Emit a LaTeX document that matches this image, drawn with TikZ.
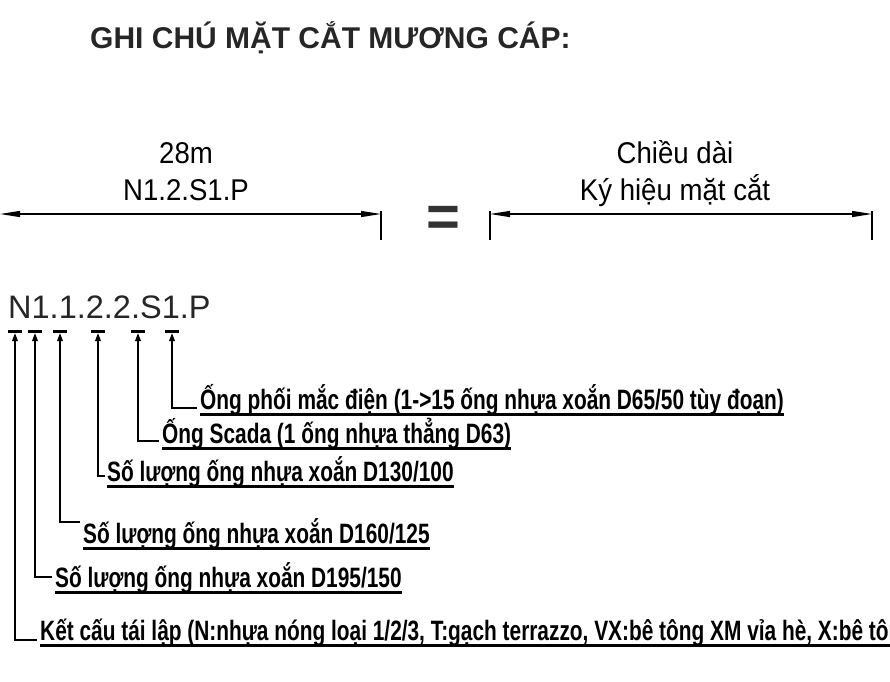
\documentclass[tikz,border=0pt]{standalone}
\usepackage{fontspec}
\setmainfont{Liberation Sans}
\newfontfamily\narrowfont[FakeStretch=0.92]{Liberation Sans}
\newfontfamily\condfont[FakeStretch=0.745]{Liberation Sans}
\usetikzlibrary{positioning}
\usetikzlibrary{arrows.meta}

\tikzset{
  titletext/.style={font=\bfseries\fontsize{30}{36}\selectfont, text=black!85, inner sep=0pt, anchor=base west},
  dimtext/.style={font=\narrowfont\fontsize{30}{36}\selectfont, inner sep=0pt, anchor=base},
  codetext/.style={font=\fontsize{32.5}{38}\selectfont, text=black!85, inner sep=0pt, anchor=base west},
  note/.style={font=\condfont\bfseries\fontsize{28}{32}\selectfont, inner sep=0pt, anchor=base west},
  underl/.style={line width=2.4pt},
  dimline/.style={line width=1.2pt, arrows={Triangle[length=20pt,width=6pt]-Triangle[length=20pt,width=6pt]}},
  dimtick/.style={line width=1.4pt},
  leader/.style={line width=1.8pt, arrows={Triangle[length=8pt,width=5.5pt]-}},
  tbar/.style={line width=2.6pt},
}

\begin{document}
\begin{tikzpicture}[x=1pt, y=-1pt]
  \useasboundingbox (0,0) rectangle (890,681);
  \clip (0,0) rectangle (890,681);

  % Tieu de
  \node[titletext] (title) at (90,48) {GHI CHÚ MẶT CẮT MƯƠNG CÁP:};

  % Vi du ky hieu = chu thich
  \node[dimtext] (code1) at (186,200) {N1.2.S1.P};
  \node[dimtext, above=37pt of code1.base, anchor=base] (len1) {28m};
  \node[dimtext] (code2) at (675,200) {Ký hiệu mặt cắt};
  \node[dimtext, above=37pt of code2.base, anchor=base] (len2) {Chiều dài};
  \node[font=\bfseries\fontsize{58}{64}\selectfont, text=black!80, inner sep=0pt, anchor=base] (eq) at (443,236) {=};

  \coordinate (a1) at (0,214);
  \coordinate (b1) at (381,214);
  \coordinate (a2) at (490,214);
  \coordinate (b2) at (872,214);
  \draw[dimline] (a1) -- (b1);
  \draw[dimline] (a2) -- (b2);
  \draw[dimtick] ([yshift=3pt]b1) -- ++(0,29);
  \draw[dimtick] ([yshift=3pt]a2) -- ++(0,29);
  \draw[dimtick] ([yshift=3pt]b2) -- ++(0,29);

  % Ky hieu day du
  \node[codetext] (code) at (8,318) {N1.1.2.2.S1.P};

  \coordinate (m6) at (15,333);
  \coordinate (m5) at (35,333);
  \coordinate (m4) at (60,333);
  \coordinate (m3) at (98,333);
  \coordinate (m2) at (138,333);
  \coordinate (m1) at (172,333);
  \foreach \m in {m1,m2,m3,m4,m5,m6}
    \draw[tbar] ([xshift=-7pt,yshift=1.5pt]\m) -- ([xshift=7pt,yshift=1.5pt]\m);

  % Chu thich
  \node[note] (r1) at (200,409) {Ống phối mắc điện (1->15 ống nhựa xoắn D65/50 tùy đoạn)};
  \node[note] (r2) at (162,443) {Ống Scada (1 ống nhựa thẳng D63)};
  \node[note] (r3) at (107,481) {Số lượng ống nhựa xoắn D130/100};
  \node[note] (r4) at (83,543) {Số lượng ống nhựa xoắn D160/125};
  \node[note] (r5) at (55,587) {Số lượng ống nhựa xoắn D195/150};
  \node[note] (r6) at (40,640) {Kết cấu tái lập (N:nhựa nóng loại 1/2/3, T:gạch terrazzo, VX:bê tông XM vỉa hè, X:bê tông)};
  \foreach \r in {r1,r2,r3,r4,r5,r6}
    \draw[underl] ([yshift=-5.5pt]\r.base west) -- ([yshift=-5.5pt]\r.base east);

  \draw[leader] (m1) |- ([xshift=-3pt,yshift=1pt]r1.base west);
  \draw[leader] (m2) |- ([xshift=-3pt,yshift=2pt]r2.base west);
  \draw[leader] (m3) |- ([xshift=-2pt,yshift=5pt]r3.base west);
  \draw[leader] (m4) |- ([xshift=-3pt,yshift=21pt]r4.base west);
  \draw[leader] (m5) |- ([xshift=-3pt,yshift=10pt]r5.base west);
  \draw[leader] (m6) |- ([xshift=-3pt]r6.base west);
\end{tikzpicture}
\end{document}
